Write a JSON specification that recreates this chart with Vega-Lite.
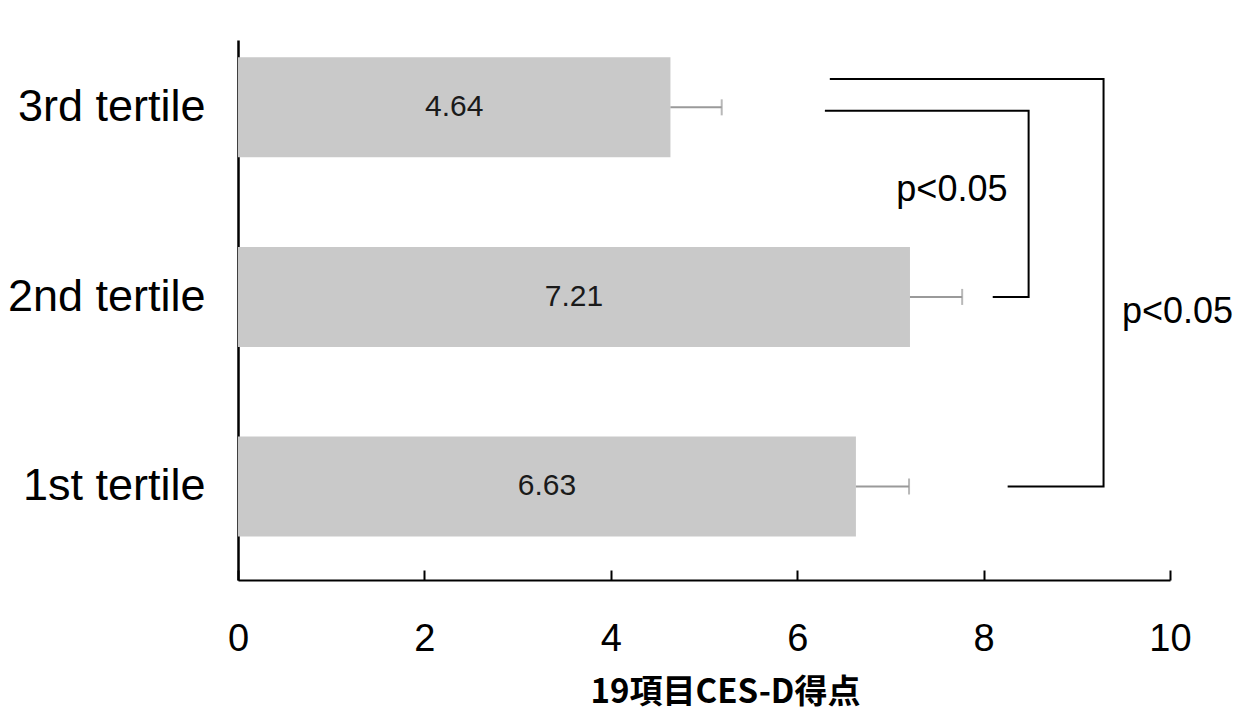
{
  "$schema": "https://vega.github.io/schema/vega-lite/v6.json",
  "width": 932,
  "height": 540,
  "autosize": {"type": "none"},
  "padding": {"left": 238, "top": 40, "right": 72, "bottom": 131},
  "background": "white",
  "config": {"view": {"stroke": null}, "font": "Liberation Sans"},
  "datasets": {
    "bars": [
      {"tertile": "3rd tertile", "mean": 4.64, "upper": 5.19},
      {"tertile": "2nd tertile", "mean": 7.21, "upper": 7.77},
      {"tertile": "1st tertile", "mean": 6.63, "upper": 7.2}
    ],
    "brackets": [
      {"bracket": "outer", "pt": 1, "x": 6.35, "y": 2.149},
      {"bracket": "outer", "pt": 2, "x": 9.287, "y": 2.149},
      {"bracket": "outer", "pt": 3, "x": 9.287, "y": 0.0},
      {"bracket": "outer", "pt": 4, "x": 8.258, "y": 0.0},
      {"bracket": "inner", "pt": 1, "x": 6.297, "y": 1.982},
      {"bracket": "inner", "pt": 2, "x": 8.483, "y": 1.982},
      {"bracket": "inner", "pt": 3, "x": 8.483, "y": 1.0},
      {"bracket": "inner", "pt": 4, "x": 8.098, "y": 1.0}
    ],
    "plabels": [
      {"label": "p<0.05", "x": 7.66, "y": 1.564},
      {"label": "p<0.05", "x": 10.08, "y": 0.92}
    ]
  },
  "layer": [
    {
      "data": {"name": "bars"},
      "encoding": {
        "y": {
          "field": "tertile",
          "type": "nominal",
          "sort": ["3rd tertile", "2nd tertile", "1st tertile"],
          "scale": {"type": "band", "paddingInner": 0.4726, "paddingOuter": 0.1605, "align": 0.285},
          "axis": {
            "title": null,
            "ticks": false,
            "domainColor": "black",
            "domainWidth": 2.5,
            "labelFontSize": 45,
            "labelColor": "black",
            "labelPadding": 33,
            "labelLimit": 0,
            "labelFont": "Liberation Sans"
          }
        }
      },
      "layer": [
        {
          "mark": {"type": "bar", "color": "#c9c9c9"},
          "encoding": {
            "x": {
              "field": "mean",
              "type": "quantitative",
              "scale": {"domain": [0, 10], "nice": false},
              "axis": {
                "values": [0, 2, 4, 6, 8, 10],
                "format": "d",
                "grid": false,
                "labelFlush": false,
                "labelOverlap": false,
                "domainColor": "black",
                "domainWidth": 2,
                "tickColor": "black",
                "tickWidth": 2,
                "tickSize": -10,
                "labelFontSize": 38,
                "labelColor": "black",
                "labelPadding": 50,
                "labelFont": "Liberation Sans",
                "title": "19項目CES-D得点",
                "titleFont": "Noto Sans CJK JP",
                "titleFontWeight": "bold",
                "titleFontSize": 33,
                "titleColor": "black",
                "titleX": 487,
                "titleY": 122,
                "titleBaseline": "alphabetic"
              }
            }
          }
        },
        {
          "mark": {"type": "rule", "color": "#9a9a9a", "strokeWidth": 2},
          "encoding": {
            "x": {"field": "mean", "type": "quantitative"},
            "x2": {"field": "upper"}
          }
        },
        {
          "mark": {"type": "tick", "orient": "vertical", "color": "#9a9a9a", "size": 16, "thickness": 2},
          "encoding": {
            "x": {"field": "upper", "type": "quantitative"}
          }
        }
      ]
    },
    {
      "data": {"name": "bars"},
      "mark": {"type": "text", "fontSize": 30, "color": "#1a1a1a", "font": "Liberation Sans"},
      "encoding": {
        "x": {"field": "mean", "type": "quantitative", "scale": {"domain": [0, 20], "nice": false}, "axis": null},
        "y": {
          "field": "tertile",
          "type": "nominal",
          "sort": ["3rd tertile", "2nd tertile", "1st tertile"],
          "scale": {"type": "band", "paddingInner": 0.4726, "paddingOuter": 0.1605, "align": 0.285},
          "axis": null
        },
        "text": {"field": "mean", "type": "quantitative", "format": ".2f"}
      }
    },
    {
      "data": {"name": "brackets"},
      "mark": {"type": "line", "color": "black", "strokeWidth": 2},
      "encoding": {
        "x": {"field": "x", "type": "quantitative", "scale": {"domain": [0, 10], "nice": false}, "axis": null},
        "y": {"field": "y", "type": "quantitative", "scale": {"domain": [-0.493, 2.355], "nice": false, "zero": false}, "axis": null},
        "detail": {"field": "bracket"},
        "order": {"field": "pt"}
      }
    },
    {
      "data": {"name": "plabels"},
      "mark": {"type": "text", "fontSize": 36, "color": "black", "font": "Liberation Sans"},
      "encoding": {
        "x": {"field": "x", "type": "quantitative", "scale": {"domain": [0, 10], "nice": false}, "axis": null},
        "y": {"field": "y", "type": "quantitative", "scale": {"domain": [-0.493, 2.355], "nice": false, "zero": false}, "axis": null},
        "text": {"field": "label"}
      }
    }
  ],
  "resolve": {"scale": {"x": "independent", "y": "independent"}}
}
